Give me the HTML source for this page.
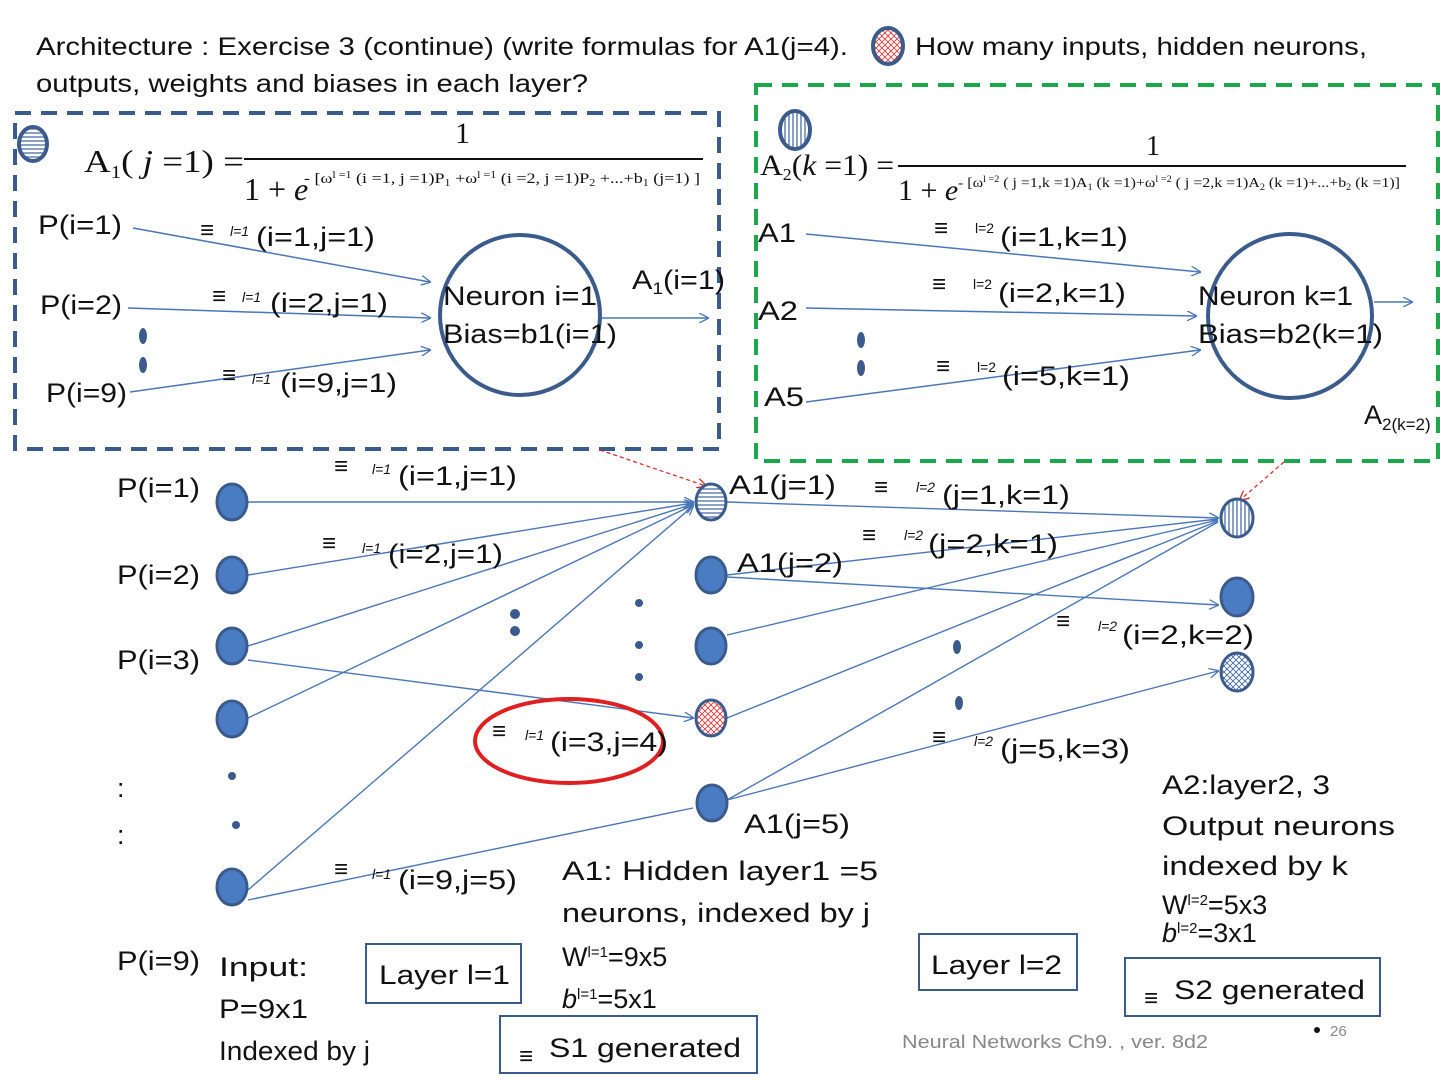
<!DOCTYPE html>
<html><head><meta charset="utf-8"><style>
body{margin:0;background:#fff}
svg{display:block}
text{font-family:"Liberation Sans",sans-serif;fill:#111}
.l{font-size:27px}
.s{font-size:14px;font-style:italic}
.eq{font-size:24px;font-weight:bold}
.m{font-family:"Liberation Serif",serif}
</style></head><body>
<svg width="1440" height="1080" viewBox="0 0 1440 1080" xmlns="http://www.w3.org/2000/svg">
<defs>
<marker id="ar" markerWidth="10" markerHeight="10" refX="9" refY="5" orient="auto" markerUnits="userSpaceOnUse"><path d="M0,0 L10,5 L0,10" fill="none" stroke="#4a76b8" stroke-width="1.3"/></marker>
<marker id="rr" markerWidth="10" markerHeight="10" refX="9" refY="5" orient="auto" markerUnits="userSpaceOnUse"><path d="M0,0 L10,5 L0,10" fill="none" stroke="#e02020" stroke-width="1.3"/></marker>
<pattern id="hz" width="4" height="4" patternUnits="userSpaceOnUse"><rect width="4" height="4" fill="#fff"/><line x1="0" y1="1" x2="4" y2="1" stroke="#3d63a0" stroke-width="1.2"/></pattern>
<pattern id="vt" width="4" height="4" patternUnits="userSpaceOnUse"><rect width="4" height="4" fill="#fff"/><line x1="1" y1="0" x2="1" y2="4" stroke="#3d63a0" stroke-width="1.2"/></pattern>
<pattern id="xr" width="6" height="6" patternUnits="userSpaceOnUse"><rect width="6" height="6" fill="#fff"/><path d="M0,0L6,6M6,0L0,6" stroke="#e03030" stroke-width="0.8"/></pattern>
<pattern id="xb" width="6" height="6" patternUnits="userSpaceOnUse"><rect width="6" height="6" fill="#fff"/><path d="M0,0L6,6M6,0L0,6" stroke="#3d63a0" stroke-width="0.8"/></pattern>
</defs>

<text x="36" y="55" style="font-size:25px" textLength="812" lengthAdjust="spacingAndGlyphs">Architecture : Exercise 3 (continue) (write formulas for  A1(j=4).</text>
<ellipse cx="888" cy="46" rx="15" ry="18" fill="url(#xr)" stroke="#3b5b8c" stroke-width="4"/>
<text x="915" y="55" style="font-size:25px" textLength="452" lengthAdjust="spacingAndGlyphs">How many inputs, hidden neurons,</text>
<text x="36" y="92" style="font-size:25px" textLength="552" lengthAdjust="spacingAndGlyphs">outputs, weights and biases  in each layer?</text>

<rect x="15" y="113" width="704" height="336" fill="none" stroke="#3b5b8c" stroke-width="4" stroke-dasharray="16,10"/>
<rect x="756" y="85" width="682" height="376" fill="none" stroke="#1aa84a" stroke-width="4" stroke-dasharray="16,10"/>

<!-- formula 1 -->
<ellipse cx="33" cy="144" rx="14" ry="17" fill="url(#hz)" stroke="#3b5b8c" stroke-width="4"/>
<text x="84" y="172" class="m" style="font-size:32px" textLength="160" lengthAdjust="spacingAndGlyphs">A<tspan font-size="18" dy="6">1</tspan><tspan dy="-6">( </tspan><tspan font-style="italic">j</tspan> =1) =</text>
<text x="455" y="143" class="m" style="font-size:30px">1</text>
<line x1="244" y1="159" x2="703" y2="159" stroke="#111" stroke-width="2"/>
<text x="244" y="200" class="m" style="font-size:32px">1 + <tspan font-style="italic">e</tspan></text>
<text x="304" y="183" class="m" style="font-size:15px" textLength="396" lengthAdjust="spacingAndGlyphs">- [ω<tspan font-size="10" dy="-5">l =1</tspan><tspan dy="5"> (i =1, j =1)P</tspan><tspan font-size="10" dy="3">1</tspan><tspan dy="-3"> +ω</tspan><tspan font-size="10" dy="-5">l =1</tspan><tspan dy="5"> (i =2, j =1)P</tspan><tspan font-size="10" dy="3">2</tspan><tspan dy="-3"> +...+b</tspan><tspan font-size="10" dy="3">1</tspan><tspan dy="-3"> (j=1) ]</tspan></text>

<!-- formula 2 -->
<ellipse cx="795" cy="130" rx="15" ry="19" fill="url(#vt)" stroke="#3b5b8c" stroke-width="4"/>
<text x="760" y="175" class="m" style="font-size:30px" textLength="134" lengthAdjust="spacingAndGlyphs">A<tspan font-size="17" dy="5">2</tspan><tspan dy="-5">(</tspan><tspan font-style="italic">k</tspan> =1) =</text>
<text x="1146" y="155" class="m" style="font-size:28px">1</text>
<line x1="898" y1="166" x2="1406" y2="166" stroke="#111" stroke-width="2"/>
<text x="898" y="200" class="m" style="font-size:30px">1 + <tspan font-style="italic">e</tspan></text>
<text x="958" y="187" class="m" style="font-size:14px" textLength="442" lengthAdjust="spacingAndGlyphs">- [ω<tspan font-size="9" dy="-5">l =2</tspan><tspan dy="5"> ( j =1,k =1)A</tspan><tspan font-size="9" dy="3">1</tspan><tspan dy="-3"> (k =1)+ω</tspan><tspan font-size="9" dy="-5">l =2</tspan><tspan dy="5"> ( j =2,k =1)A</tspan><tspan font-size="9" dy="3">2</tspan><tspan dy="-3"> (k =1)+...+b</tspan><tspan font-size="9" dy="3">2</tspan><tspan dy="-3"> (k =1)]</tspan></text>

<!-- top-left neuron -->
<circle cx="520" cy="315" r="80" fill="none" stroke="#3b5b8c" stroke-width="4"/>
<text x="443" y="305" class="l" textLength="154" lengthAdjust="spacingAndGlyphs">Neuron i=1</text>
<text x="443" y="343" class="l" textLength="174" lengthAdjust="spacingAndGlyphs">Bias=b1(i=1)</text>
<g stroke="#4a76b8" stroke-width="1.5" marker-end="url(#ar)">
<line x1="133" y1="228" x2="430" y2="282"/>
<line x1="128" y1="308" x2="430" y2="318"/>
<line x1="130" y1="392" x2="430" y2="350"/>
<line x1="602" y1="318" x2="708" y2="318"/>
</g>
<text x="38" y="234" class="l" textLength="84" lengthAdjust="spacingAndGlyphs">P(i=1)</text>
<text x="40" y="314" class="l" textLength="82" lengthAdjust="spacingAndGlyphs">P(i=2)</text>
<text x="46" y="402" class="l" textLength="81" lengthAdjust="spacingAndGlyphs">P(i=9)</text>
<ellipse cx="143" cy="336" rx="4" ry="8" fill="#3b5b8c"/><ellipse cx="143" cy="365" rx="4" ry="8" fill="#3b5b8c"/>
<text x="200" y="238" class="eq">≡</text><text x="230" y="236" class="s">l=1</text><text x="256" y="246" class="l" textLength="119" lengthAdjust="spacingAndGlyphs">(i=1,j=1)</text>
<text x="212" y="304" class="eq">≡</text><text x="242" y="302" class="s">l=1</text><text x="270" y="312" class="l" textLength="118" lengthAdjust="spacingAndGlyphs">(i=2,j=1)</text>
<text x="222" y="383" class="eq">≡</text><text x="252" y="384" class="s">l=1</text><text x="280" y="392" class="l" textLength="117" lengthAdjust="spacingAndGlyphs">(i=9,j=1)</text>
<text x="632" y="289" class="l" textLength="93" lengthAdjust="spacingAndGlyphs">A<tspan font-size="17" dy="5">1</tspan><tspan dy="-5">(i=1)</tspan></text>

<!-- top-right neuron -->
<circle cx="1290" cy="316" r="82" fill="none" stroke="#3b5b8c" stroke-width="4"/>
<text x="1198" y="305" class="l" textLength="155" lengthAdjust="spacingAndGlyphs">Neuron k=1</text>
<text x="1198" y="343" class="l" textLength="185" lengthAdjust="spacingAndGlyphs">Bias=b2(k=1)</text>
<g stroke="#4a76b8" stroke-width="1.5" marker-end="url(#ar)">
<line x1="806" y1="234" x2="1200" y2="272"/>
<line x1="806" y1="308" x2="1196" y2="316"/>
<line x1="806" y1="402" x2="1200" y2="350"/>
<line x1="1374" y1="302" x2="1412" y2="302"/>
</g>
<text x="758" y="242" class="l" textLength="38" lengthAdjust="spacingAndGlyphs">A1</text>
<text x="758" y="320" class="l" textLength="40" lengthAdjust="spacingAndGlyphs">A2</text>
<text x="764" y="406" class="l" textLength="40" lengthAdjust="spacingAndGlyphs">A5</text>
<ellipse cx="861" cy="340" rx="4" ry="8" fill="#3b5b8c"/><ellipse cx="861" cy="368" rx="4" ry="8" fill="#3b5b8c"/>
<text x="934" y="236" class="eq">≡</text><text x="975" y="233" style="font-size:14px">l=2</text><text x="1000" y="246" class="l" textLength="128" lengthAdjust="spacingAndGlyphs">(i=1,k=1)</text>
<text x="932" y="292" class="eq">≡</text><text x="973" y="289" style="font-size:14px">l=2</text><text x="998" y="302" class="l" textLength="128" lengthAdjust="spacingAndGlyphs">(i=2,k=1)</text>
<text x="936" y="374" class="eq">≡</text><text x="977" y="372" style="font-size:14px">l=2</text><text x="1002" y="385" class="l" textLength="128" lengthAdjust="spacingAndGlyphs">(i=5,k=1)</text>
<text x="1364" y="424" class="l">A<tspan font-size="17" dy="6">2(k=2)</tspan></text>

<!-- red dashed arrows -->
<line x1="600" y1="450" x2="706" y2="486" stroke="#e02020" stroke-width="1.2" stroke-dasharray="4,3" marker-end="url(#rr)"/>
<line x1="1284" y1="462" x2="1240" y2="500" stroke="#e02020" stroke-width="1.2" stroke-dasharray="4,3" marker-end="url(#rr)"/>

<!-- lower net lines -->
<g stroke="#4a76b8" stroke-width="1.4" fill="none">
<line x1="248" y1="502" x2="693" y2="502" marker-end="url(#ar)"/>
<line x1="248" y1="575" x2="693" y2="503" marker-end="url(#ar)"/>
<line x1="248" y1="646" x2="693" y2="504" marker-end="url(#ar)"/>
<line x1="248" y1="718" x2="693" y2="505" marker-end="url(#ar)"/>
<line x1="248" y1="890" x2="693" y2="506" marker-end="url(#ar)"/>
<line x1="248" y1="660" x2="693" y2="718" marker-end="url(#ar)"/>
<line x1="248" y1="900" x2="693" y2="808"/>
<line x1="727" y1="502" x2="1218" y2="518" marker-end="url(#ar)"/>
<line x1="727" y1="575" x2="1218" y2="519"/>
<line x1="727" y1="577" x2="1218" y2="605" marker-end="url(#ar)"/>
<line x1="727" y1="635" x2="1218" y2="520"/>
<line x1="727" y1="718" x2="1218" y2="521"/>
<line x1="727" y1="800" x2="1218" y2="522"/>
<line x1="727" y1="800" x2="1218" y2="671" marker-end="url(#ar)"/>
</g>

<!-- lower nodes -->
<g fill="#4a7cc4" stroke="#3b5b8c" stroke-width="3">
<ellipse cx="232" cy="502" rx="15" ry="18"/>
<ellipse cx="232" cy="575" rx="15" ry="18"/>
<ellipse cx="232" cy="646" rx="15" ry="18"/>
<ellipse cx="232" cy="719" rx="15" ry="18"/>
<ellipse cx="232" cy="887" rx="15" ry="18"/>
<ellipse cx="711" cy="502" rx="15" ry="18" fill="url(#hz)"/>
<ellipse cx="711" cy="575" rx="15" ry="18"/>
<ellipse cx="711" cy="646" rx="15" ry="18"/>
<ellipse cx="711" cy="718" rx="15" ry="18" fill="url(#xr)"/>
<ellipse cx="712" cy="803" rx="15" ry="18"/>
<ellipse cx="1237" cy="518" rx="16" ry="19" fill="url(#vt)"/>
<ellipse cx="1237" cy="597" rx="16" ry="19"/>
<ellipse cx="1237" cy="672" rx="16" ry="19" fill="url(#xb)"/>
</g>
<g fill="#3b5b8c">
<circle cx="515" cy="614" r="5"/><circle cx="515" cy="631" r="5"/>
<circle cx="639" cy="603" r="4"/><circle cx="639" cy="645" r="4"/><circle cx="639" cy="677" r="4"/>
<ellipse cx="957" cy="647" rx="4" ry="7"/><ellipse cx="959" cy="703" rx="4" ry="7"/>
<circle cx="232" cy="776" r="4"/><circle cx="236" cy="825" r="4"/>
</g>

<ellipse cx="569" cy="741" rx="94" ry="42" fill="none" stroke="#e02020" stroke-width="4"/>

<text x="117" y="497" class="l" textLength="83" lengthAdjust="spacingAndGlyphs">P(i=1)</text>
<text x="117" y="584" class="l" textLength="83" lengthAdjust="spacingAndGlyphs">P(i=2)</text>
<text x="117" y="669" class="l" textLength="83" lengthAdjust="spacingAndGlyphs">P(i=3)</text>
<text x="117" y="797" class="l">:</text>
<text x="117" y="844" class="l">:</text>
<text x="117" y="970" class="l" textLength="83" lengthAdjust="spacingAndGlyphs">P(i=9)</text>

<text x="334" y="474" class="eq">≡</text><text x="372" y="474" class="s">l=1</text><text x="398" y="485" class="l" textLength="119" lengthAdjust="spacingAndGlyphs">(i=1,j=1)</text>
<text x="322" y="551" class="eq">≡</text><text x="362" y="553" class="s">l=1</text><text x="388" y="563" class="l" textLength="115" lengthAdjust="spacingAndGlyphs">(i=2,j=1)</text>
<text x="492" y="739" class="eq">≡</text><text x="525" y="740" class="s">l=1</text><text x="550" y="751" class="l" textLength="118" lengthAdjust="spacingAndGlyphs">(i=3,j=4)</text>
<text x="334" y="877" class="eq">≡</text><text x="372" y="879" class="s">l=1</text><text x="398" y="889" class="l" textLength="119" lengthAdjust="spacingAndGlyphs">(i=9,j=5)</text>

<text x="729" y="494" class="l" textLength="107" lengthAdjust="spacingAndGlyphs">A1(j=1)</text>
<text x="737" y="572" class="l" textLength="106" lengthAdjust="spacingAndGlyphs">A1(j=2)</text>
<text x="744" y="833" class="l" textLength="106" lengthAdjust="spacingAndGlyphs">A1(j=5)</text>

<text x="874" y="495" class="eq">≡</text><text x="916" y="492" class="s">l=2</text><text x="942" y="504" class="l" textLength="128" lengthAdjust="spacingAndGlyphs">(j=1,k=1)</text>
<text x="862" y="543" class="eq">≡</text><text x="904" y="540" class="s">l=2</text><text x="928" y="553" class="l" textLength="130" lengthAdjust="spacingAndGlyphs">(j=2,k=1)</text>
<text x="1056" y="629" class="eq">≡</text><text x="1098" y="631" class="s">l=2</text><text x="1122" y="644" class="l" textLength="132" lengthAdjust="spacingAndGlyphs">(i=2,k=2)</text>
<text x="932" y="745" class="eq">≡</text><text x="974" y="746" class="s">l=2</text><text x="1000" y="758" class="l" textLength="130" lengthAdjust="spacingAndGlyphs">(j=5,k=3)</text>

<text x="1162" y="794" class="l" textLength="168" lengthAdjust="spacingAndGlyphs">A2:layer2, 3</text>
<text x="1162" y="835" class="l" textLength="233" lengthAdjust="spacingAndGlyphs">Output neurons</text>
<text x="1162" y="875" class="l" textLength="186" lengthAdjust="spacingAndGlyphs">indexed by k</text>
<text x="1162" y="914" class="l">W<tspan font-size="15" dy="-9">l=2</tspan><tspan dy="9">=5x3</tspan></text>
<text x="1162" y="942" class="l"><tspan font-style="italic">b</tspan><tspan font-size="15" dy="-9">l=2</tspan><tspan dy="9">=3x1</tspan></text>

<text x="562" y="880" class="l" textLength="316" lengthAdjust="spacingAndGlyphs">A1: Hidden layer1 =5</text>
<text x="562" y="922" class="l" textLength="308" lengthAdjust="spacingAndGlyphs">neurons, indexed by j</text>
<text x="562" y="966" class="l">W<tspan font-size="15" dy="-9">l=1</tspan><tspan dy="9">=9x5</tspan></text>
<text x="562" y="1008" class="l"><tspan font-style="italic">b</tspan><tspan font-size="15" dy="-9">l=1</tspan><tspan dy="9">=5x1</tspan></text>

<text x="219" y="976" class="l" textLength="89" lengthAdjust="spacingAndGlyphs">Input:</text>
<text x="219" y="1018" class="l" textLength="89" lengthAdjust="spacingAndGlyphs">P=9x1</text>
<text x="219" y="1060" class="l" textLength="151" lengthAdjust="spacingAndGlyphs">Indexed by j</text>

<rect x="366" y="944" width="155" height="59" fill="none" stroke="#3b5b8c" stroke-width="2"/>
<text x="379" y="984" class="l" textLength="131" lengthAdjust="spacingAndGlyphs">Layer l=1</text>
<rect x="919" y="934" width="158" height="56" fill="none" stroke="#3b5b8c" stroke-width="2"/>
<text x="931" y="974" class="l" textLength="131" lengthAdjust="spacingAndGlyphs">Layer l=2</text>
<rect x="1125" y="958" width="255" height="58" fill="none" stroke="#3b5b8c" stroke-width="2"/>
<text x="1144" y="1006" class="eq">≡</text><text x="1174" y="999" class="l" textLength="191" lengthAdjust="spacingAndGlyphs">S2 generated</text>
<rect x="500" y="1016" width="257" height="57" fill="none" stroke="#3b5b8c" stroke-width="2"/>
<text x="519" y="1064" class="eq">≡</text><text x="549" y="1057" class="l" textLength="192" lengthAdjust="spacingAndGlyphs">S1 generated</text>

<text x="902" y="1048" style="font-size:18px;fill:#888" textLength="306" lengthAdjust="spacingAndGlyphs">Neural Networks Ch9. , ver. 8d2</text>
<circle cx="1317" cy="1030" r="3" fill="#111"/>
<text x="1330" y="1036" style="font-size:15px;fill:#888">26</text>
</svg>
</body></html>
